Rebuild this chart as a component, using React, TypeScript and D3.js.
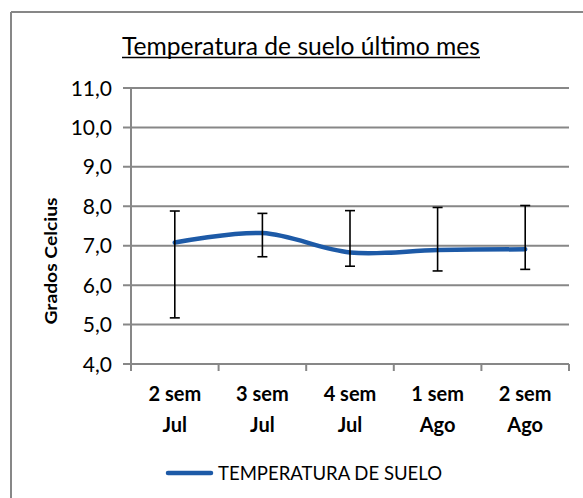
import * as d3 from 'd3';

const categories = [
    ['2 sem', 'Jul'],
    ['3 sem', 'Jul'],
    ['4 sem', 'Jul'],
    ['1 sem', 'Ago'],
    ['2 sem', 'Ago'],
];
const temperature = [7.08, 7.32, 6.83, 6.89, 6.91];
const errHigh = [7.88, 7.82, 7.89, 7.97, 8.02];
const errLow = [5.17, 6.72, 6.48, 6.36, 6.40];
const yTicks = [4, 5, 6, 7, 8, 9, 10, 11];

const WIDTH = 583;
const HEIGHT = 498;
const plot = { left: 131, right: 569, top: 88, bottom: 364 };
const GRID = '#878787';
const LINE = '#1d5aa7';
const FONT = 'Lato, "Open Sans", sans-serif';

const App = () => {
    const x = d3.scaleBand<number>()
        .domain(categories.map((_, i) => i))
        .range([plot.left, plot.right]);
    const y = d3.scaleLinear().domain([4, 11]).range([plot.bottom, plot.top]);
    const cx = (i: number) => (x(i) as number) + x.bandwidth() / 2;

    const line = d3.line<number>()
        .x((_, i) => cx(i))
        .y(d => y(d))
        .curve(d3.curveCatmullRom.alpha(0.5));

    const xTickPos = [...categories.map((_, i) => x(i) as number), plot.right];

    return (
        <div style={{ position: 'absolute', left: 0, top: 0 }}>
            <svg width={WIDTH} height={HEIGHT} style={{ display: 'block', background: '#fff' }}>
                {/* chart frame (only left/top visible in the crop) */}
                <line x1={11} x2={11} y1={12} y2={HEIGHT} stroke={GRID} strokeWidth={2} />
                <line x1={11} x2={WIDTH} y1={12} y2={12} stroke={GRID} strokeWidth={2} />

                {/* title */}
                <text x={122} y={55} fontFamily={FONT} fontSize={25} fill="#000"
                    textLength={358} lengthAdjust="spacingAndGlyphs">
                    Temperatura de suelo último mes
                </text>
                <line x1={122} x2={480} y1={57.5} y2={57.5} stroke="#000" strokeWidth={1.5} />

                {/* gridlines + y ticks */}
                {yTicks.map(t => (
                    <g key={t}>
                        <line x1={plot.left - 8} x2={plot.right} y1={y(t)} y2={y(t)} stroke={GRID} strokeWidth={2} />
                        <text x={112} y={y(t) + 7.5} textAnchor="end" fontFamily={FONT} fontSize={21} fill="#000">
                            {t.toFixed(1).replace('.', ',')}
                        </text>
                    </g>
                ))}
                <line x1={plot.left} x2={plot.left} y1={plot.top} y2={plot.bottom + 7} stroke={GRID} strokeWidth={2} />
                {xTickPos.map((p, i) => (
                    <line key={i} x1={p} x2={p} y1={plot.bottom} y2={plot.bottom + 7} stroke={GRID} strokeWidth={2} />
                ))}

                {/* y title */}
                <text transform={`translate(57, 261) rotate(-90)`}
                    textAnchor="middle" fontFamily={FONT} fontSize={17} fontWeight="bold" fill="#000"
                    textLength={127} lengthAdjust="spacingAndGlyphs">
                    Grados Celcius
                </text>

                {/* x labels */}
                {categories.map((c, i) => (
                    <text key={i} textAnchor="middle" fontFamily={FONT} fontSize={20} fontWeight="bold" fill="#000">
                        <tspan x={cx(i)} y={401}>{c[0]}</tspan>
                        <tspan x={cx(i)} y={432}>{c[1]}</tspan>
                    </text>
                ))}

                {/* series */}
                <path d={line(temperature) ?? ''} fill="none" stroke={LINE} strokeWidth={4.5} strokeLinecap="round" />

                {/* error bars */}
                {temperature.map((_, i) => (
                    <g key={i} stroke="#000" strokeWidth={1.6}>
                        <line x1={cx(i)} x2={cx(i)} y1={y(errHigh[i])} y2={y(errLow[i])} />
                        <line x1={cx(i) - 5} x2={cx(i) + 5} y1={y(errHigh[i])} y2={y(errHigh[i])} />
                        <line x1={cx(i) - 5} x2={cx(i) + 5} y1={y(errLow[i])} y2={y(errLow[i])} />
                    </g>
                ))}

                {/* legend */}
                <line x1={168} x2={211} y1={473} y2={473} stroke={LINE} strokeWidth={4.5} strokeLinecap="round" />
                <text x={218} y={480} fontFamily={FONT} fontSize={20} fill="#000"
                    textLength={224} lengthAdjust="spacingAndGlyphs">
                    TEMPERATURA DE SUELO
                </text>
            </svg>
        </div>
    );
};

export default App;
